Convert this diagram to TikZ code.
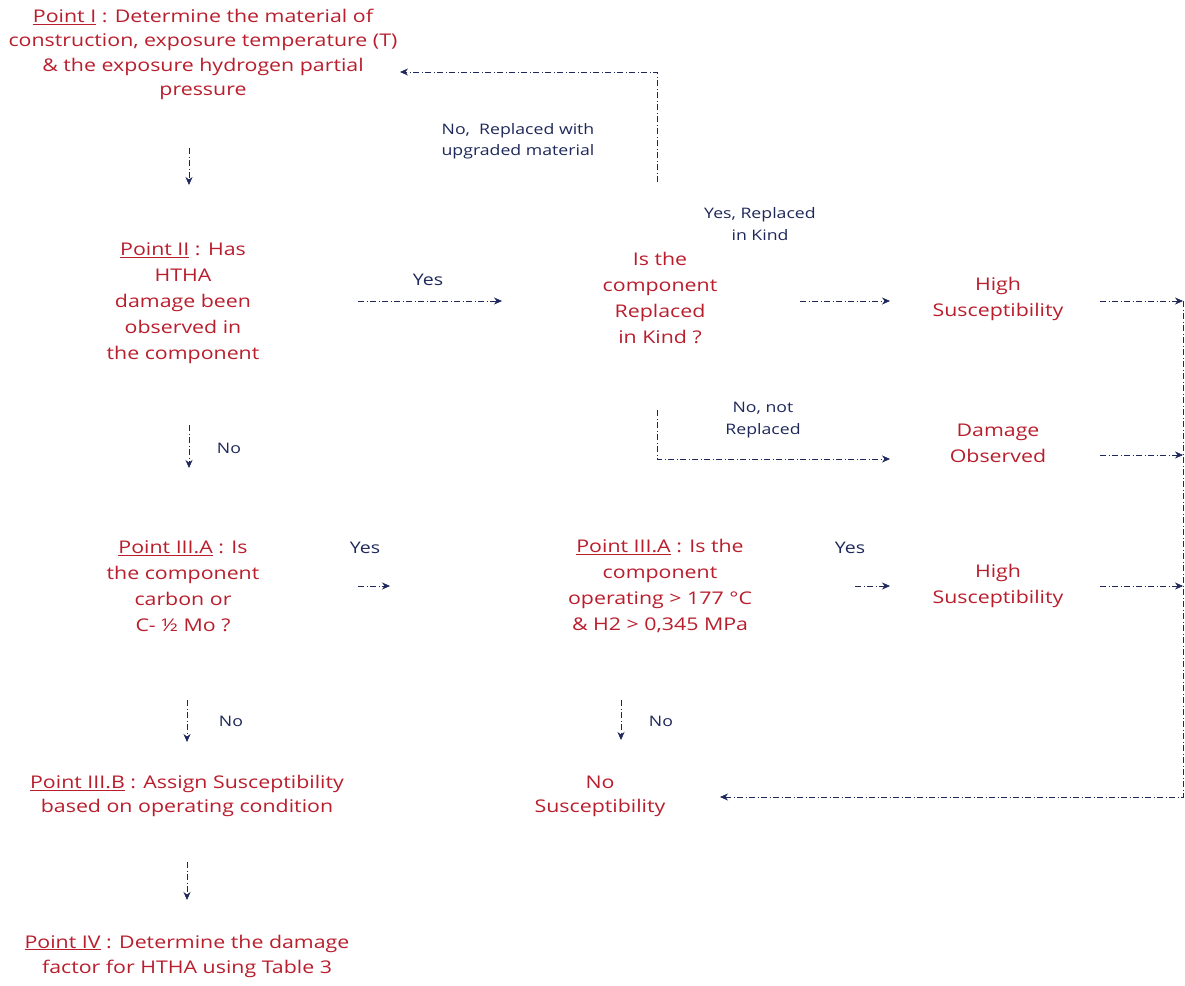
\documentclass[tikz,border=0pt]{standalone}
\usepackage{fontspec}
\setmainfont{Open Sans}[FakeStretch=1.22]
\usetikzlibrary{arrows.meta}
\definecolor{tred}{RGB}{185,30,45}
\definecolor{navy}{RGB}{30,40,90}
\begin{document}
\begin{tikzpicture}[x=1pt,y=-1pt,
  txt/.style={text=tred, align=center, inner sep=0pt, font=\fontsize{17.5}{26}\selectfont},
  lab/.style={text=navy, align=center, inner sep=0pt, font=\fontsize{14.5}{22}\selectfont},
  arr/.style={draw=navy, line width=0.7pt, dash pattern=on 6pt off 2.5pt on 1pt off 2.5pt, -{Stealth[length=8pt,width=7pt]}}]
\useasboundingbox[fill=white] (0,0) rectangle (1185,985);

% text blocks
\node[txt, font=\fontsize{17.5}{24.5}\selectfont] (p1) at (203,54.5) {\underline{Point I} : Determine the material of\\construction, exposure temperature (T)\\\& the exposure hydrogen partial\\pressure};
\node[txt] (p2) at (183,303) {\underline{Point II} : Has\\HTHA\\damage been\\observed in\\the component};
\node[txt] (rk) at (660,298) {Is the\\component\\Replaced\\in Kind ?};
\node[txt] (hs1) at (998,299) {High\\Susceptibility};
\node[txt] (dob) at (998,443) {Damage\\Observed};
\node[txt] (p3l) at (183,586) {\underline{Point III.A} : Is\\the component\\carbon or\\C- ½ Mo ?};
\node[txt] (p3r) at (660,586) {\underline{Point III.A} : Is the\\component\\operating > 177 °C\\\& H2 > 0,345 MPa};
\node[txt] (hs2) at (998,586) {High\\Susceptibility};
\node[txt, font=\fontsize{17.5}{24}\selectfont] (p3b) at (187,796) {\underline{Point III.B} : Assign Susceptibility\\based on operating condition};
\node[txt, font=\fontsize{17.5}{24}\selectfont] (nos) at (600,796) {No\\Susceptibility};
\node[txt, font=\fontsize{17.5}{25}\selectfont] (p4) at (187,956) {\underline{Point IV} : Determine the damage\\factor for HTHA using Table 3};

% labels
\node[lab, font=\fontsize{14.5}{21}\selectfont] (lup) at (518,141) {No,\ \ Replaced with\\upgraded material};
\node[lab] (lyrk) at (760,224) {Yes, Replaced\\in Kind};
\node[lab] (lnr) at (763,420) {No, not\\Replaced};
\node[lab, font=\fontsize{16}{20}\selectfont] (ly1) at (428,280) {Yes};
\node[lab, font=\fontsize{16}{20}\selectfont] (ly2) at (365,548) {Yes};
\node[lab, font=\fontsize{16}{20}\selectfont] (ly3) at (850,548) {Yes};
\node[lab] (ln1) at (229,448) {No};
\node[lab] (ln2) at (231,721) {No};
\node[lab] (ln3) at (661,721) {No};

% connector end points
\coordinate (a1s) at (189,148);  \coordinate (a1e) at (189,185);
\coordinate (a2s) at (358,301);  \coordinate (a2e) at (502,301);
\coordinate (a3s) at (800,301);  \coordinate (a3e) at (890,301);
\coordinate (a4s) at (1100,301); \coordinate (a4e) at (1183,301);
\coordinate (a5s) at (1100,455); \coordinate (a5e) at (1183,455);
\coordinate (a6s) at (1100,586); \coordinate (a6e) at (1183,586);
\coordinate (bks) at (657,182);  \coordinate (bkc) at (657,72);  \coordinate (bke) at (400,72);
\coordinate (lps) at (657,410);  \coordinate (lpc) at (657,459); \coordinate (lpe) at (890,459);
\coordinate (a7s) at (189,425);  \coordinate (a7e) at (189,468);
\coordinate (a8s) at (358,586);  \coordinate (a8e) at (390,586);
\coordinate (a9s) at (855,586);  \coordinate (a9e) at (890,586);
\coordinate (b1s) at (187,700);  \coordinate (b1e) at (187,742);
\coordinate (b2s) at (621,700);  \coordinate (b2e) at (621,740);
\coordinate (b3s) at (187,862);  \coordinate (b3e) at (187,900);
\coordinate (rvt) at (1183,301); \coordinate (rvb) at (1183,797); \coordinate (rve) at (720,797);

% connectors
\draw[arr] (a1s) -- (a1e);
\draw[arr] (a2s) -- (a2e);
\draw[arr] (a3s) -- (a3e);
\draw[arr] (a4s) -- (a4e);
\draw[arr] (a5s) -- (a5e);
\draw[arr] (a6s) -- (a6e);
\draw[arr] (bks) -- (bkc) -- (bke);
\draw[arr] (lps) -- (lpc) -- (lpe);
\draw[arr] (a7s) -- (a7e);
\draw[arr] (a8s) -- (a8e);
\draw[arr] (a9s) -- (a9e);
\draw[arr] (b1s) -- (b1e);
\draw[arr] (b2s) -- (b2e);
\draw[arr] (b3s) -- (b3e);
\draw[arr] (rvt) -- (rvb) -- (rve);
\end{tikzpicture}
\end{document}
